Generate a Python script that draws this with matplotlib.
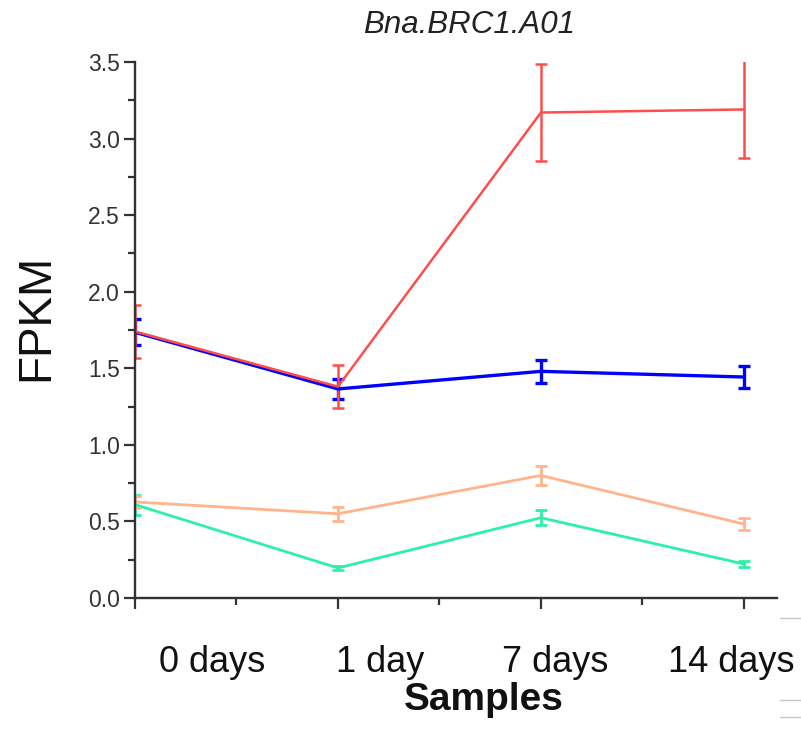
import matplotlib
matplotlib.use("Agg")
import matplotlib.pyplot as plt
from matplotlib.lines import Line2D
from matplotlib.ticker import MultipleLocator, NullFormatter, FormatStrFormatter

plt.rcParams["font.family"] = ["Liberation Sans", "DejaVu Sans"]

samples = ["0 days", "1 day", "7 days", "14 days"]
x = [0, 1, 2, 3]

# FPKM means and error bars per series
red_mean = [1.74, 1.38, 3.17, 3.19]
red_err = [0.17, 0.14, 0.315, 0.32]
blue_mean = [1.735, 1.365, 1.48, 1.443]
blue_err = [0.085, 0.065, 0.075, 0.072]
orange_mean = [0.627, 0.55, 0.80, 0.483]
orange_err = [0.04, 0.045, 0.065, 0.04]
green_mean = [0.61, 0.196, 0.524, 0.222]
green_err = [0.065, 0.015, 0.05, 0.02]

series = [
    (green_mean, green_err, "#2ef0a8", 2.0),
    (orange_mean, orange_err, "#ffb48c", 2.0),
    (blue_mean, blue_err, "#0000ff", 2.4),
    (red_mean, red_err, "#ff4d4d", 1.8),
]

fig = plt.figure(figsize=(8.01, 7.46), dpi=100)
ax = fig.add_axes([0.1685, 0.1984, 0.8015, 0.7185])

for mean, err, color, lw in series:
    ax.errorbar(x, mean, yerr=err, color=color, lw=lw, elinewidth=lw,
                capsize=4.3, capthick=lw)

ax.set_xlim(0, 3.163)
ax.set_ylim(0, 3.5)

for side in ("top", "right"):
    ax.spines[side].set_visible(False)
for side in ("left", "bottom"):
    ax.spines[side].set_linewidth(1.7)
    ax.spines[side].set_color("#333333")

ax.xaxis.set_major_locator(MultipleLocator(1))
ax.xaxis.set_minor_locator(MultipleLocator(0.5))
ax.yaxis.set_major_locator(MultipleLocator(0.5))
ax.yaxis.set_minor_locator(MultipleLocator(0.25))
ax.xaxis.set_major_formatter(NullFormatter())
ax.yaxis.set_major_formatter(FormatStrFormatter("%.1f"))
ax.tick_params(axis="both", which="major", direction="out", length=8,
               width=1.6, color="#333333")
ax.tick_params(axis="both", which="minor", direction="out", length=5,
               width=1.6, color="#333333")
ax.tick_params(axis="y", labelsize=16.5, labelcolor="#333333", pad=3)

# category labels sit below and a bit right of the ticks
label_x = [0.38, 1.21, 2.07, 2.94]
for lx, name in zip(label_x, samples):
    ax.text(lx, -0.12, name, transform=ax.get_xaxis_transform(),
            ha="center", va="center", fontsize=26, color="#111111")

fig.text(0.5855, 0.966, "Bna.BRC1.A01", ha="center", va="center",
         fontsize=22.5, style="italic", color="#222222")
fig.text(0.045, 0.574, "FPKM", ha="center", va="center", rotation=90,
         fontsize=33, color="#111111")
fig.text(0.604, 0.062, "Samples", ha="center", va="center",
         fontsize=28, fontweight="bold", color="#111111")

# thin grey rules at the right edge
for yy in (618, 700, 717):
    fig.add_artist(Line2D([780 / 801, 1.0], [1 - yy / 746, 1 - yy / 746],
                          color="#c8c8c8", lw=1.0))

fig.savefig("out.png", dpi=100)
plt.close(fig)
